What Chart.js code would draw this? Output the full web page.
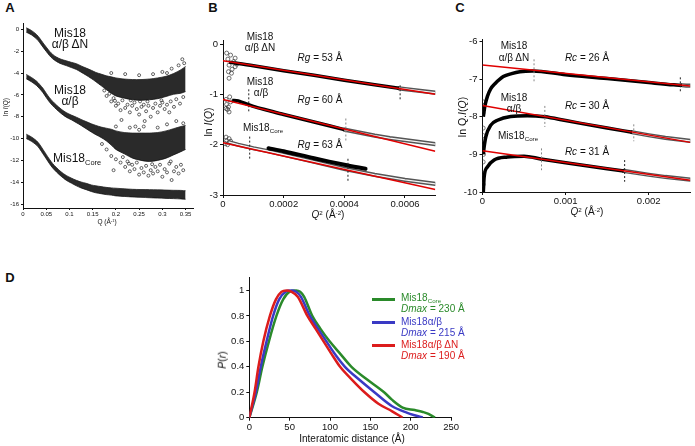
<!DOCTYPE html>
<html>
<head>
<meta charset="utf-8">
<script src="https://cdn.jsdelivr.net/npm/chart.js@4.4.1/dist/chart.umd.min.js"></script>
<style>
  html, body { margin: 0; padding: 0; background: #fff; }
  #fig { position: relative; width: 695px; height: 446px; overflow: hidden;
         font-family: "Liberation Sans", Arial, sans-serif; color: #111; }
  canvas { position: absolute; }
  .t { position: absolute; white-space: nowrap; line-height: 1; transform: translate(-50%, -50%); }
  .l { transform: translate(0, -50%); }
  .rot { transform: translate(-50%, -50%) rotate(-90deg); }
  .pl { font-weight: bold; font-size: 13px; }
  .a { font-size: 12px; }
  .b { font-size: 10px; }
  .sw { position: absolute; height: 3px; width: 23px; left: 372px; }
  sub { font-size: 62%; vertical-align: -0.35em; line-height: 0; }
  sup { font-size: 62%; vertical-align: 0.5em; line-height: 0; }
</style>
</head>
<body>
<div id="fig">
  <canvas id="chartA"></canvas>
  <canvas id="chartB"></canvas>
  <canvas id="chartC"></canvas>
  <canvas id="chartD"></canvas>

  <div class="t pl" style="left:10px;top:7px">A</div>
  <div class="t pl" style="left:213px;top:7px">B</div>
  <div class="t pl" style="left:460px;top:7px">C</div>
  <div class="t pl" style="left:10px;top:277px">D</div>

  <!-- panel A -->
  <div class="t a" style="left:70px;top:33px">Mis18</div>
  <div class="t a" style="left:70px;top:44px">α/β ΔN</div>
  <div class="t a" style="left:70px;top:90px">Mis18</div>
  <div class="t a" style="left:70px;top:101px">α/β</div>
  <div class="t a l" style="left:53px;top:158px">Mis18<sub>Core</sub></div>
  <div class="t rot" style="left:6px;top:107px;font-size:6.5px">ln <i>I</i>(Q)</div>
  <div class="t" style="left:107px;top:222px;font-size:6.5px">Q (Å<sup>-1</sup>)</div>

  <!-- panel B -->
  <div class="t b" style="left:260px;top:37px">Mis18</div>
  <div class="t b" style="left:260px;top:48px">α/β ΔN</div>
  <div class="t b" style="left:260px;top:82px">Mis18</div>
  <div class="t b" style="left:261px;top:93px">α/β</div>
  <div class="t b l" style="left:243px;top:128px">Mis18<sub>Core</sub></div>
  <div class="t b" style="left:320px;top:58px"><i>Rg</i> = 53 Å</div>
  <div class="t b" style="left:320px;top:100px"><i>Rg</i> = 60 Å</div>
  <div class="t b" style="left:320px;top:145px"><i>Rg</i> = 63 Å</div>
  <div class="t rot" style="left:208px;top:122px;font-size:10.5px">ln <i>I</i>(<i>Q</i>)</div>
  <div class="t b" style="left:328px;top:215px"><i>Q</i><sup>2</sup> (Å<sup>-2</sup>)</div>

  <!-- panel C -->
  <div class="t b" style="left:514px;top:46px">Mis18</div>
  <div class="t b" style="left:514px;top:58px">α/β ΔN</div>
  <div class="t b" style="left:514px;top:98px">Mis18</div>
  <div class="t b" style="left:514px;top:109px">α/β</div>
  <div class="t b l" style="left:498px;top:136px">Mis18<sub>Core</sub></div>
  <div class="t b" style="left:587px;top:58px"><i>Rc</i> = 26 Å</div>
  <div class="t b" style="left:587px;top:106px"><i>Rc</i> = 30 Å</div>
  <div class="t b" style="left:587px;top:152px"><i>Rc</i> = 31 Å</div>
  <div class="t rot" style="left:462px;top:117px;font-size:10.5px">ln Q.<i>I</i>(<i>Q</i>)</div>
  <div class="t b" style="left:587px;top:212px"><i>Q</i><sup>2</sup> (Å<sup>-2</sup>)</div>

  <!-- panel D -->
  <div class="t rot" style="left:222px;top:360px;font-size:10.5px"><i>P</i>(<i>r</i>)</div>
  <div class="t b" style="left:352px;top:439px">Interatomic distance (Å)</div>
  <div class="sw" style="top:298px;background:#2a8a2a"></div>
  <div class="t b l" style="left:401px;top:298px;color:#2a8a2a">Mis18<sub>Core</sub></div>
  <div class="t b l" style="left:401px;top:309px;color:#2a8a2a"><i>Dmax</i> = 230 Å</div>
  <div class="sw" style="top:321px;background:#3a3ac4"></div>
  <div class="t b l" style="left:401px;top:322px;color:#3a3ac4">Mis18α/β</div>
  <div class="t b l" style="left:401px;top:333px;color:#3a3ac4"><i>Dmax</i> = 215 Å</div>
  <div class="sw" style="top:344px;background:#dc1c1c"></div>
  <div class="t b l" style="left:401px;top:345px;color:#dc1c1c">Mis18α/β ΔN</div>
  <div class="t b l" style="left:401px;top:356px;color:#dc1c1c"><i>Dmax</i> = 190 Å</div>
</div>

<script>
// ---- Panel A: scattering curves ln I(Q) vs Q ----
const aQ = [0.007, 0.018, 0.029, 0.036, 0.043, 0.05, 0.057, 0.064, 0.072, 0.082, 0.093, 0.104, 0.115, 0.125, 0.136,
            0.147, 0.157, 0.168, 0.179, 0.19, 0.2, 0.218, 0.236, 0.254, 0.272, 0.29, 0.308, 0.324, 0.34, 0.35];
const aDnUpper = [0.14, -0.1, -0.47, -0.82, -1.23, -1.62, -2.0, -2.3, -2.54, -2.74, -2.88, -3.02, -3.15, -3.35, -3.55,
                  -3.75, -3.95, -4.1, -4.25, -4.35, -4.45, -4.55, -4.6, -4.6, -4.55, -4.45, -4.3, -4.05, -3.7, -3.4];
const aDnLower = [-0.26, -0.5, -0.87, -1.22, -1.63, -2.02, -2.4, -2.7, -2.94, -3.16, -3.32, -3.5, -3.68, -3.92, -4.2,
                  -4.5, -4.8, -5.15, -5.5, -5.85, -6.1, -6.3, -6.45, -6.5, -6.45, -6.35, -6.15, -5.95, -5.85, -5.7];
const aAbUpper = [-4.13, -4.4, -4.74, -5.05, -5.4, -5.85, -6.26, -6.6, -6.93, -7.3, -7.62, -7.85, -8.05, -8.25, -8.45,
                  -8.65, -8.8, -8.95, -9.05, -9.15, -9.3, -9.45, -9.5, -9.5, -9.5, -9.45, -9.3, -9.1, -8.9, -8.8];
const aAbLower = [-4.53, -4.8, -5.14, -5.45, -5.8, -6.25, -6.66, -7.0, -7.33, -7.7, -8.04, -8.28, -8.55, -8.8, -9.1,
                  -9.4, -9.65, -9.9, -10.2, -10.6, -11.0, -11.4, -11.8, -12.0, -12.1, -12.0, -11.8, -11.5, -11.2, -11.0];
const aCoreUpper = [-9.6, -9.85, -10.2, -10.55, -11.0, -11.45, -11.9, -12.3, -12.66, -13.05, -13.38, -13.62, -13.83, -13.98, -14.1,
                    -14.25, -14.33, -14.4, -14.47, -14.52, -14.55, -14.6, -14.65, -14.67, -14.68, -14.7, -14.72, -14.74, -14.75, -14.78];
const aCoreLower = [-10.0, -10.25, -10.6, -10.95, -11.4, -11.85, -12.3, -12.7, -13.06, -13.45, -13.82, -14.08, -14.33, -14.52, -14.68,
                    -14.85, -14.97, -15.05, -15.13, -15.18, -15.25, -15.3, -15.35, -15.38, -15.42, -15.45, -15.48, -15.5, -15.53, -15.56];
const aDnOutliers = [[0.175,-5.6],[0.18,-6.1],[0.186,-5.9],[0.19,-6.6],[0.195,-6.3],[0.2,-7.0],[0.205,-6.8],[0.21,-7.4],
  [0.214,-6.5],[0.22,-7.2],[0.225,-6.9],[0.23,-7.6],[0.235,-7.0],[0.24,-6.7],[0.242,-8.9],[0.245,-7.3],[0.25,-7.8],[0.255,-7.1],
  [0.26,-6.9],[0.265,-7.5],[0.27,-7.0],[0.275,-8.0],[0.28,-7.2],[0.285,-6.8],[0.29,-7.6],[0.295,-7.0],[0.3,-6.7],[0.305,-7.3],
  [0.31,-6.9],[0.318,-6.6],[0.325,-7.1],[0.33,-6.4],[0.338,-6.8],[0.345,-6.2],[0.19,-4.0],[0.22,-4.1],[0.25,-4.2],[0.28,-4.1],
  [0.3,-3.9],[0.31,-4.0],[0.32,-3.6],[0.335,-3.3],[0.343,-2.74],[0.347,-3.1],[0.212,-8.3],[0.262,-8.4],[0.232,-6.5],
  [0.268,-6.6],[0.298,-6.5],[0.198,-6.55],[0.315,-7.6],[0.252,-6.6]];
const aAbOutliers = [[0.17,-10.5],[0.18,-11.0],[0.19,-11.6],[0.195,-12.9],[0.2,-11.9],[0.21,-12.2],[0.215,-11.7],[0.22,-12.6],
  [0.225,-12.1],[0.23,-13.0],[0.235,-12.4],[0.24,-12.8],[0.245,-12.2],[0.25,-13.3],[0.255,-12.7],[0.26,-13.1],[0.265,-12.5],
  [0.27,-13.4],[0.275,-12.9],[0.28,-13.2],[0.285,-12.6],[0.29,-13.0],[0.295,-12.4],[0.3,-13.5],[0.305,-12.8],[0.31,-13.1],
  [0.315,-12.3],[0.32,-13.8],[0.325,-13.0],[0.33,-12.6],[0.335,-13.2],[0.34,-12.4],[0.345,-12.9],[0.2,-8.9],[0.23,-9.0],
  [0.25,-9.2],[0.26,-8.9],[0.29,-9.0],[0.31,-8.7],[0.33,-8.4],[0.345,-8.6],[0.228,-12.3],[0.278,-12.35],[0.318,-12.1]];

// ---- Panel B: Guinier plots ln I(Q) vs Q^2 ----
const bFitQ = [0, 0.0007];
const bFits = [[-0.33, -1.0], [-1.1, -2.13], [-1.96, -2.89]];
const bDn = [[0.00002,-0.36],[0.0001,-0.43],[0.0002,-0.53],[0.0003,-0.62],[0.0004,-0.72],[0.0005,-0.81],[0.00058,-0.88]];
const bDnTail = [[0.00058,-0.88],[0.0006,-0.895],[0.00065,-0.93],[0.0007,-0.965]];
const bDnLow = [[0.000012,-0.18],[0.000016,-0.3],[0.00002,-0.42],[0.000025,-0.22],[0.00003,-0.5],[0.000035,-0.35],
  [0.00004,-0.45],[0.000028,-0.58],[0.00002,-0.68],[0.00004,-0.28],[0.000045,-0.4],[0.000018,-0.55]];
const bAb = [[0.00003,-1.12],[0.00005,-1.13],[0.0001,-1.24],[0.00015,-1.32],[0.0002,-1.4],[0.0003,-1.55],[0.0004,-1.7]];
const bAbTail = [[0.0004,-1.7],[0.00045,-1.76],[0.0005,-1.82],[0.00055,-1.87],[0.0006,-1.91],[0.00065,-1.95],[0.0007,-1.99]];
const bAbLow = [[0.00001,-1.1],[0.000012,-1.2],[0.000015,-1.3],[0.000018,-1.25],[0.00002,-1.35],[0.000025,-1.15],
  [0.00001,-1.28],[0.000022,-1.05]];
const bCore = [[0.00002,-1.95],[0.00005,-2.0],[0.0001,-2.07],[0.00015,-2.13],[0.0002,-2.2],[0.0003,-2.34],[0.0004,-2.48],
  [0.0005,-2.6],[0.0006,-2.7],[0.0007,-2.78]];
const bCoreDense = [[0.00015,-2.07],[0.0002,-2.13],[0.0003,-2.27],[0.0004,-2.4],[0.00047,-2.48]];
const bCoreLow = [[0.00001,-1.85],[0.000012,-1.92],[0.000015,-2.0],[0.00002,-1.88],[0.000008,-1.98],[0.000025,-1.93]];
const bDashBlack = [[0.000584,-0.82,-1.12],[0.000085,-0.9,-1.36],[0.000088,-1.84,-2.3],[0.000412,-2.28,-2.72]];
const bDashGray = [[0.000405,-1.48,-1.92]];

// ---- Panel C: cross-section Guinier ln Q.I(Q) vs Q^2 ----
const cFitQ = [0, 0.0025];
const cFits = [[-6.62, -7.18], [-7.7, -8.68], [-8.9, -9.69]];
const cDn = [[0.00001,-8.0],[0.00003,-7.7],[0.00006,-7.45],[0.0001,-7.25],[0.00015,-7.12],[0.00025,-6.93],[0.00035,-6.85],
  [0.00045,-6.8],[0.0006,-6.78],[0.001,-6.88],[0.0015,-6.98],[0.002,-7.09],[0.0023,-7.15],[0.0024,-7.16]];
const cDnTail = [[0.0024,-7.16],[0.00245,-7.17],[0.0025,-7.17]];
const cAb = [[0.00001,-9.0],[0.00002,-8.8],[0.00004,-8.53],[0.0001,-8.22],[0.00018,-8.09],[0.00034,-7.99],[0.00054,-7.97],
  [0.00075,-8.0],[0.001,-8.1],[0.0015,-8.3],[0.0018,-8.41]];
const cAbTail = [[0.0018,-8.41],[0.002,-8.49],[0.0022,-8.56],[0.0025,-8.64]];
const cCore = [[0.00001,-10.0],[0.00002,-9.6],[0.00006,-9.33],[0.00014,-9.15],[0.0003,-9.07],[0.0005,-9.05],[0.0007,-9.12],
  [0.001,-9.22],[0.0015,-9.38],[0.0017,-9.44]];
const cCoreTail = [[0.0017,-9.44],[0.002,-9.54],[0.0022,-9.6],[0.0025,-9.67]];
const cLow = [[0.000005,-7.6],[0.000005,-7.9],[0.000008,-8.3],[0.000005,-8.7],[0.000008,-9.2],[0.000005,-9.5],
  [0.000008,-9.8],[0.00001,-8.5],[0.000012,-9.0]];
const cDashGray = [[0.00062,-6.47,-7.07],[0.00075,-7.71,-8.27],[0.00182,-8.2,-8.65],[0.00071,-8.84,-9.42]];
const cDashBlack = [[0.00238,-6.95,-7.32],[0.00171,-9.15,-9.73]];

// ---- Panel D: pair distance distributions P(r) ----
const dCore = [[0,0],[9.3,0.2],[16.2,0.4],[24.3,0.6],[33.6,0.8],[42,0.93],[50,0.99],[58,1.0],[63,0.99],[68,0.95],[78,0.8],
  [88,0.7],[99.5,0.6],[113,0.5],[126.6,0.4],[146,0.3],[167,0.2],[177,0.14],[190,0.08],[205,0.06],[215,0.045],[222,0.03],[230,0]];
const dAb = [[0,0],[8.1,0.2],[14.2,0.4],[21.4,0.6],[29.5,0.8],[37,0.93],[45,0.99],[52,1.0],[58,0.99],[64,0.95],[75,0.8],
  [85,0.7],[95.5,0.6],[106,0.5],[118.5,0.4],[136,0.3],[155,0.2],[177,0.09],[195,0.04],[207,0.015],[215,0]];
const dDn = [[0,0],[6.5,0.2],[11.3,0.4],[17.4,0.6],[25.5,0.8],[33,0.93],[40,0.99],[46,1.0],[52,0.99],[60,0.95],[72,0.8],
  [82,0.7],[92,0.6],[102,0.5],[112.5,0.4],[127,0.3],[142.8,0.2],[160,0.11],[177,0.05],[190,0]];

const FONT = "'Liberation Sans', Arial, sans-serif";
const xy = arr => arr.map(p => ({ x: p[0], y: p[1] }));
const zip = (xs, ys) => xs.map((x, i) => ({ x, y: ys[i] }));

function axis(o) {
  return {
    type: 'linear', min: o.min, max: o.max,
    afterFit: s => { if (o.w) s.width = o.w; if (o.h) s.height = o.h; },
    ticks: { stepSize: o.step, includeBounds: false, autoSkip: false, maxRotation: 0,
             padding: o.pad, color: '#111', font: { family: FONT, size: o.fs },
             callback: v => String(+v.toFixed(6)) },
    grid: { drawOnChartArea: false, drawTicks: true, tickLength: o.tl, color: '#111' },
    border: { color: '#111', width: 1 }
  };
}

function line(data, color, width, order, extra) {
  return Object.assign({ data, borderColor: color, borderWidth: width, pointRadius: 0,
                         tension: 0, fill: false, order }, extra || {});
}
function dots(data, color, r, order) {
  return { data, showLine: false, pointRadius: r, pointBorderWidth: 0.7, pointBorderColor: color,
           pointBackgroundColor: 'rgba(255,255,255,0)', order };
}
function dashes(marks, color, order) {
  return marks.map(m => line([{ x: m[0], y: m[1] }, { x: m[0], y: m[2] }], color, 1, order, { borderDash: [2, 2] }));
}
// hollow chain of sparse circles, drawn as a light line inside a dark one
function tube(data, order) {
  return [line(data, '#f4f4f4', 1.4, order, { borderCapStyle: 'round' }),
          line(data, '#555', 4.2, order + 0.5, { borderCapStyle: 'round' })];
}
function fits(qs, rows, color, order) {
  return rows.map(r => line(zip(qs, r), color, 1.5, order));
}
function band(xs, up, low, order) {
  return [line(zip(xs, up), '#222', 0.8, order, { fill: '+1', backgroundColor: 'rgba(12,12,12,0.88)', tension: 0.3 }),
          line(zip(xs, low), '#222', 0.8, order, { tension: 0.3 })];
}

function makeChart(id, box, pad, xs, ys, datasets) {
  const c = document.getElementById(id);
  Object.assign(c.style, { left: box[0] + 'px', top: box[1] + 'px', width: box[2] + 'px', height: box[3] + 'px' });
  c.width = box[2];
  c.height = box[3];
  return new Chart(c, {
    type: 'line',
    data: { datasets },
    options: {
      responsive: false, animation: false, events: [], devicePixelRatio: 1,
      layout: { padding: { top: pad[0], right: pad[1], bottom: 0, left: 0 } },
      plugins: { legend: { display: false }, tooltip: { enabled: false } },
      scales: { x: xs, y: ys }
    }
  });
}

// Panel A
makeChart('chartA', [0, 15, 198, 215], [8, 5],
  axis({ min: 0, max: 0.366, step: 0.05, fs: 6, tl: 2, pad: 1, h: 22 }),
  axis({ min: -16.36, max: 0.58, step: 2, fs: 6, tl: 2, pad: 2, w: 23 }),
  [
    dots(xy(aDnOutliers), '#222', 1.5, 2),
    dots(xy(aAbOutliers), '#222', 1.5, 2),
    ...band(aQ, aDnUpper, aDnLower, 3),
    ...band(aQ, aAbUpper, aAbLower, 3),
    ...band(aQ, aCoreUpper, aCoreLower, 3)
  ]);

// Panel B
makeChart('chartB', [200, 30, 240, 185], [10, 4.5],
  axis({ min: 0, max: 0.0007, step: 0.0002, fs: 9.5, tl: 3, pad: 1, h: 20 }),
  axis({ min: -3, max: 0.08, step: 1, fs: 9.5, tl: 3, pad: 2, w: 23 }),
  [
    ...fits(bFitQ, bFits, '#e00000', 1),
    ...dashes(bDashBlack, '#222', 2),
    ...dashes(bDashGray, '#888', 2),
    line(xy(bDn), '#000', 3.5, 4, { tension: 0.3 }),
    line(xy(bAb), '#000', 3.5, 4, { tension: 0.3 }),
    line(xy(bCoreDense), '#000', 4, 4, { tension: 0.3, borderCapStyle: 'round' }),
    ...tube(xy(bDnTail), 5),
    ...tube(xy(bAbTail), 5),
    ...tube(xy(bCore), 6),
    dots(xy(bDnLow), '#333', 2, 7),
    dots(xy(bAbLow), '#333', 2, 7),
    dots(xy(bCoreLow), '#333', 2, 7)
  ]);

// Panel C
makeChart('chartC', [460, 30, 235, 182], [9, 2],
  axis({ min: 0, max: 0.0025, step: 0.001, fs: 9.5, tl: 3, pad: 1, h: 20 }),
  axis({ min: -10, max: -5.93, step: 1, fs: 9.5, tl: 3, pad: 2, w: 22.5 }),
  [
    ...fits(cFitQ, cFits, '#e00000', 1),
    ...dashes(cDashBlack, '#222', 2),
    ...dashes(cDashGray, '#888', 2),
    line(xy(cDn), '#000', 3.5, 4, { cubicInterpolationMode: 'monotone' }),
    line(xy(cAb), '#000', 3.5, 4, { cubicInterpolationMode: 'monotone' }),
    line(xy(cCore), '#000', 3.5, 4, { cubicInterpolationMode: 'monotone' }),
    ...tube(xy(cDnTail), 5),
    ...tube(xy(cAbTail), 5),
    ...tube(xy(cCoreTail), 5),
    dots(xy(cLow), '#444', 2, 7)
  ]);

// Panel D
makeChart('chartD', [225, 270, 235, 170], [7, 3.3],
  axis({ min: 0, max: 250, step: 50, fs: 9.5, tl: 3, pad: 1, h: 22.3 }),
  axis({ min: 0, max: 1.1, step: 0.2, fs: 9.5, tl: 3, pad: 2, w: 24.3 }),
  [
    line(xy(dDn), '#dc1c1c', 2.5, 1, { cubicInterpolationMode: 'monotone' }),
    line(xy(dAb), '#3a3ac4', 2.5, 2, { cubicInterpolationMode: 'monotone' }),
    line(xy(dCore), '#2a8a2a', 2.5, 3, { cubicInterpolationMode: 'monotone' })
  ]);
</script>
</body>
</html>
